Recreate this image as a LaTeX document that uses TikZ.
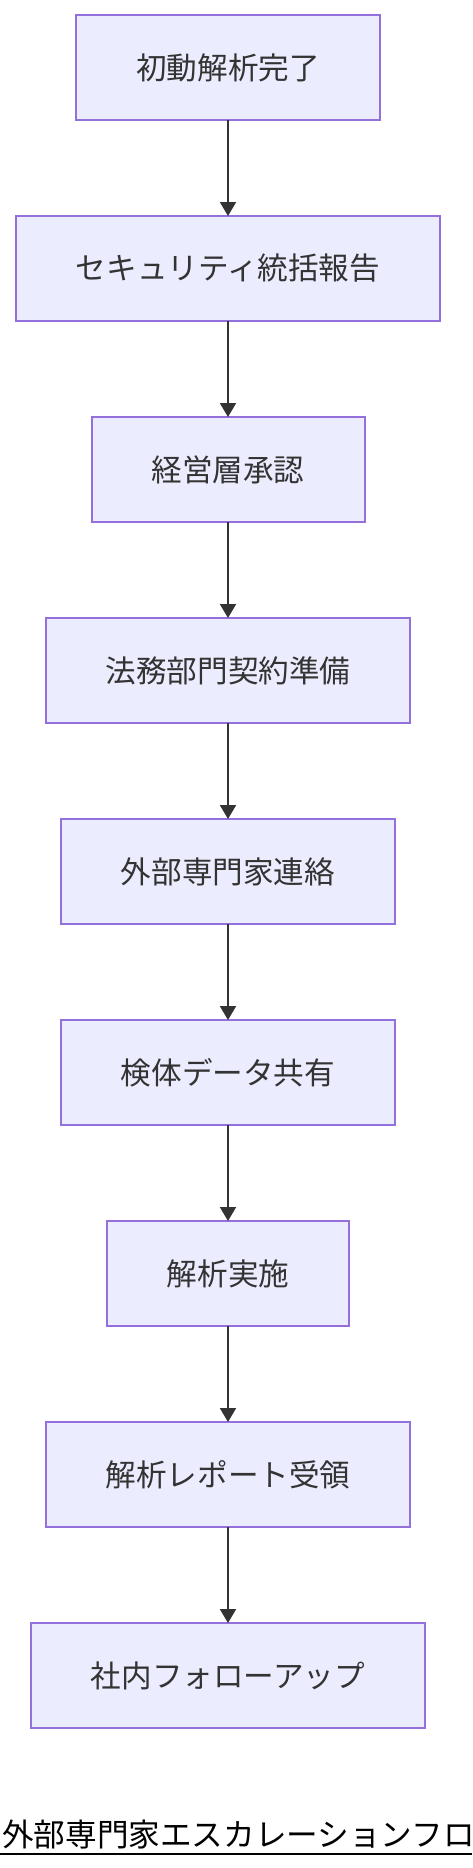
\documentclass[tikz,border=0pt]{standalone}
\usepackage{fontspec}
\newfontfamily\jpfont{Noto Sans CJK JP}
\usetikzlibrary{positioning,arrows.meta}
\definecolor{boxfill}{HTML}{ECECFF}
\definecolor{boxline}{HTML}{9370DB}
\definecolor{inkgray}{HTML}{333333}

\begin{document}
\begin{tikzpicture}[x=1pt,y=-1pt,
        stepbox/.style={draw=boxline,fill=boxfill,line width=2pt,
            minimum height=105pt,inner xsep=60pt,inner ysep=0pt,outer sep=0pt,
            text=inkgray,font=\jpfont\fontsize{30.6}{36}\selectfont},
        flow/.style={draw=inkgray,line width=2pt,-{Triangle[width=16pt,length=14pt]}},
        node distance=96pt]
        \useasboundingbox (0,0) rectangle (472,1868);

        % steps, top to bottom
        \node[stepbox] (first) at (228,67.5) {初動解析完了};
        \node[stepbox,below=of first] (secrep) {セキュリティ統括報告};
        \node[stepbox,below=of secrep] (mgmt) {経営層承認};
        \node[stepbox,below=of mgmt] (legal) {法務部門契約準備};
        \node[stepbox,below=of legal] (contact) {外部専門家連絡};
        \node[stepbox,below=of contact] (share) {検体データ共有};
        \node[stepbox,below=of share] (analysis) {解析実施};
        \node[stepbox,below=of analysis] (receive) {解析レポート受領};
        \node[stepbox,below=of receive] (follow) {社内フォローアップ};

        \foreach \a/\b in {first/secrep,secrep/mgmt,mgmt/legal,legal/contact,
                contact/share,share/analysis,analysis/receive,receive/follow}
            \draw[flow] (\a) -- (\b);

        % title
        \node[anchor=base west,inner sep=0pt,font=\jpfont\fontsize{31.6}{36}\selectfont]
            (title) at (2,1846.5) {外部専門家エスカレーションフロ};
        \draw[line width=2pt] (0,1853.5) -- (472,1853.5);
    \end{tikzpicture}
\end{document}
